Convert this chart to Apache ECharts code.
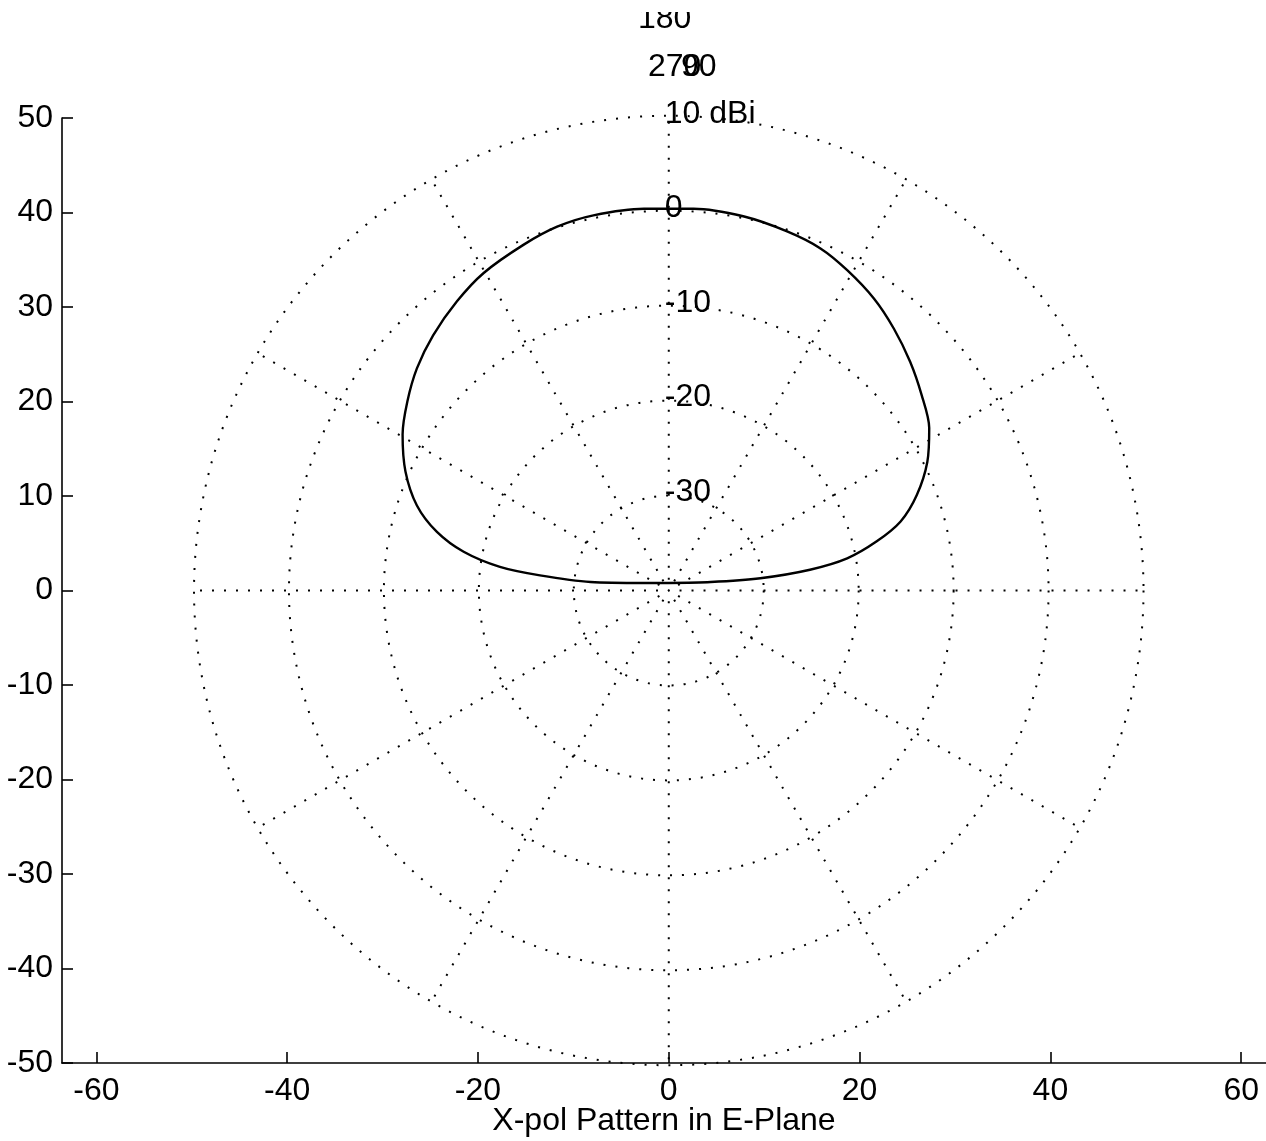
<!DOCTYPE html>
<html>
<head>
<meta charset="utf-8">
<script src="https://cdn.jsdelivr.net/npm/echarts@6/dist/echarts.min.js"></script>
<style>
  html, body { margin: 0; padding: 0; background: #fff; }
  #chart { width: 1266px; height: 1141px; }
</style>
</head>
<body>
<div id="chart"></div>
<script>
// frame ticks
const xTicks = [-60, -40, -20, 0, 20, 40, 60]
const yTicks = [-50, -40, -30, -20, -10, 0, 10, 20, 30, 40, 50]
// polar rings (radius in axis units) and the dB text written on them
const ringRadii = [10, 20, 30, 40, 50]
const ringLabels = ['-30', '-20', '-10', '0', '10 dBi']
// odd angle labels MATLAB stacked above the plot
const angleLabels = ['180', '270', '90']
// x-pol pattern trace (axis units)
const curveX = [0, 4.4, 9.6, 14.8, 18.7, 21.8, 24.3, 26.0, 27.1, 27.3, 26.5, 25.3, 23.6, 21.5, 18.7, 15.9, 12.4, 7.8, 2.6,
  -2.6, -7.9, -11.7, -15.2, -19.4, -22.2, -24.7, -26.4, -27.4, -27.9, -27.6, -26.4, -24.3, -21.5, -17.7, -13.5, -8.2, -2.6, 0]
const curveY = [0.8, 0.9, 1.3, 2.2, 3.4, 5.2, 7.3, 10.1, 13.6, 17.2, 20.7, 24.2, 27.7, 30.9, 33.9, 36.2, 38.0, 39.6, 40.4,
  40.4, 39.7, 38.5, 36.6, 33.6, 30.6, 27.0, 23.5, 20.0, 16.5, 12.6, 9.0, 6.2, 4.1, 2.5, 1.6, 0.9, 0.8, 0.8]

const font = 'Liberation Sans, Arial, Helvetica, sans-serif'
const fs = 32

const chart = echarts.init(document.getElementById('chart'), null, { renderer: 'canvas' })

const option = {
  backgroundColor: '#fff',
  animation: false,
  textStyle: { fontFamily: font, color: '#000' },
  grid: { left: 62, right: 0, top: 118, bottom: 78, containLabel: false, outerBoundsMode: 'none' },
  xAxis: {
    type: 'value',
    min: -63.6,
    max: 62.6,
    name: 'X-pol Pattern in E-Plane',
    nameLocation: 'middle',
    nameGap: 42,
    nameMoveOverlap: false,
    nameTextStyle: { fontSize: fs, fontFamily: font, color: '#000' },
    axisLine: { onZero: false, lineStyle: { color: '#000', width: 1.6 } },
    axisTick: { inside: true, length: 11, customValues: xTicks, lineStyle: { color: '#000', width: 1.6 } },
    axisLabel: { customValues: xTicks, fontSize: fs, fontFamily: font, color: '#000', margin: 12 },
    splitLine: { show: false },
  },
  yAxis: {
    type: 'value',
    min: -50,
    max: 50,
    axisLine: { onZero: false, lineStyle: { color: '#000', width: 1.6 } },
    axisTick: { inside: true, length: 11, customValues: yTicks, lineStyle: { color: '#000', width: 1.6 } },
    axisLabel: { customValues: yTicks, fontSize: fs, fontFamily: font, color: '#000', margin: 9 },
    splitLine: { show: false },
  },
  polar: { center: [668, 590], radius: 475 },
  radiusAxis: {
    type: 'value',
    min: 0,
    max: 50,
    interval: 10,
    axisLine: { show: false },
    axisTick: { show: false },
    axisLabel: { show: false },
    splitLine: { show: true, showMinLine: false, lineStyle: { color: '#000', width: 2, type: [2, 10] } },
  },
  angleAxis: {
    type: 'value',
    min: 0,
    max: 360,
    interval: 30,
    startAngle: 0,
    axisLine: { show: false },
    axisTick: { show: false },
    axisLabel: { show: false },
    splitLine: { show: true, lineStyle: { color: '#000', width: 2, type: [2, 10], dashOffset: 6 } },
  },
  graphic: [
    { type: 'text', left: 638, top: 3, z: 1, style: { text: angleLabels[0], font: fs + 'px ' + font, fill: '#000' } },
    // the scan lost the top of the "180"
    { type: 'rect', left: 620, top: 0, z: 2, shape: { width: 90, height: 12 }, style: { fill: '#fff' } },
    { type: 'text', left: 648, top: 51, style: { text: angleLabels[1], font: fs + 'px ' + font, fill: '#000' } },
    { type: 'text', left: 681, top: 51, style: { text: angleLabels[2], font: fs + 'px ' + font, fill: '#000' } },
  ],
  series: [
    {
      type: 'scatter',
      silent: true,
      symbolSize: 0,
      z: 3,
      itemStyle: { opacity: 1, color: 'rgba(0,0,0,0)' },
      data: ringRadii.map(r => [0, r]),
      label: {
        show: true,
        position: 'right',
        distance: 0,
        offset: [-4, -4],
        fontSize: fs,
        fontFamily: font,
        color: '#000',
        formatter: p => ringLabels[p.dataIndex],
      },
    },
    {
      type: 'line',
      silent: true,
      symbol: 'none',
      smooth: 0.3,
      z: 4,
      lineStyle: { color: '#000', width: 2.4 },
      data: curveX.map((x, i) => [x, curveY[i]]),
    },
  ],
}

chart.setOption(option)

// sit the polar grid on the cartesian origin
const c = chart.convertToPixel({ gridIndex: 0 }, [0, 0])
const e = chart.convertToPixel({ gridIndex: 0 }, [50, 50])
chart.setOption({ polar: { center: c, radius: ((e[0] - c[0]) + (c[1] - e[1])) / 2 } })
</script>
</body>
</html>
